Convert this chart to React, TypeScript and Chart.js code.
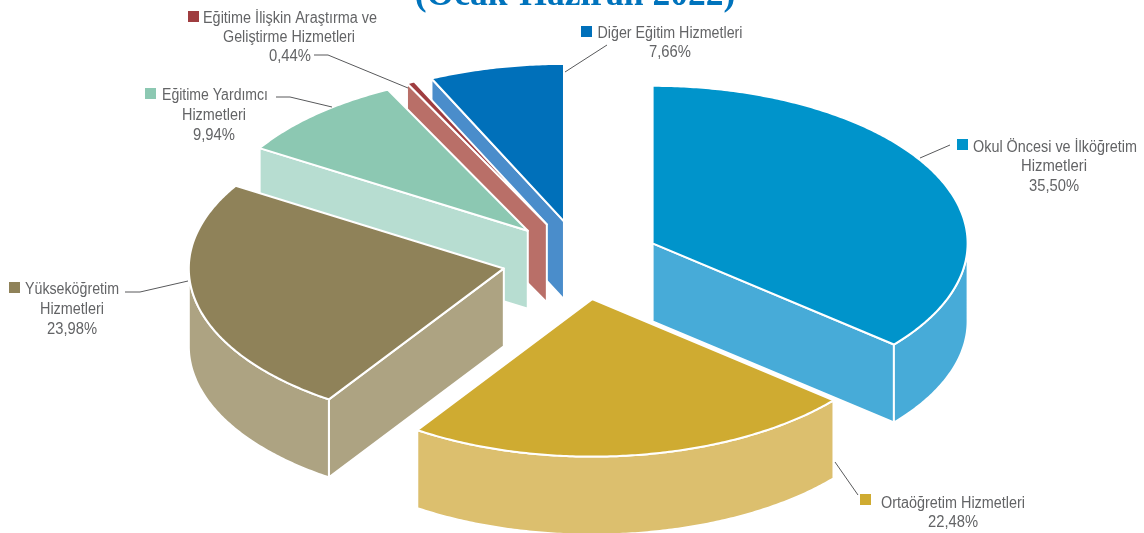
import React, { useEffect, useRef } from "react";
import { Chart, registerables } from "chart.js";

Chart.register(...registerables);

const titleText = "(Ocak-Haziran 2022)";
const categories = [
  "Okul Öncesi ve İlköğretim Hizmetleri",
  "Ortaöğretim Hizmetleri",
  "Yükseköğretim Hizmetleri",
  "Eğitime Yardımcı Hizmetleri",
  "Eğitime İlişkin Araştırma ve Geliştirme Hizmetleri",
  "Diğer Eğitim Hizmetleri",
];
const shares = [35.5, 22.48, 23.98, 9.94, 0.44, 7.66];
const topColors = ["#0094CB", "#CFAB31", "#8F8259", "#8CC8B2", "#9F3D40", "#0070BA"];
const wallColors = ["#47ABD8", "#DCBF6E", "#ADA382", "#B7DDD1", "#B96F68", "#4A8DCB"];
const drawOrder = [5, 4, 3, 2, 0, 1];

const SQUASH = 0.5;
const DEPTH = 78;
const EXPLODE = 79;
const RADIUS = 315;
const TEXT = "#636466";
const FONT = '16px "Liberation Sans Narrow", "Liberation Sans", sans-serif';
// The reference's 3D view distorts angles: [angle on the pie, degrees added by the projection].
const viewCorrection: [number, number][] = [[0, 0], [127.8, 2.2], [208.7, 5], [295, 6.6], [330.8, 2.8], [332.4, 2.7], [360, 0]];

const project = (rad: number) => {
  const deg = ((rad + Math.PI / 2) * 180) / Math.PI;
  for (let i = 1; i < viewCorrection.length; i++) {
    const [a0, e0] = viewCorrection[i - 1];
    const [a1, e1] = viewCorrection[i];
    if (deg <= a1 + 1e-6) return rad + ((e0 + ((e1 - e0) * (deg - a0)) / (a1 - a0)) * Math.PI) / 180;
  }
  return rad;
};

type Callout = {
  lines: string[];
  xs: number[];
  ys: number[];
  fit: number[];
  box: [number, number];
  leader: [number, number][];
};
const callouts: Callout[] = [
  { lines: ["Okul Öncesi ve İlköğretim", "Hizmetleri"], xs: [1055, 1054, 1054], ys: [148, 167, 187], fit: [164, 66, 50], box: [957, 139], leader: [[920, 158], [950, 145]] },
  { lines: ["Ortaöğretim Hizmetleri"], xs: [953, 953], ys: [504, 523], fit: [144, 50], box: [860, 494], leader: [[835, 462], [858, 495]] },
  { lines: ["Yükseköğretim", "Hizmetleri"], xs: [72, 72, 72], ys: [290, 310, 330], fit: [94, 64, 50], box: [9, 282], leader: [[125, 292], [140, 292], [188, 281]] },
  { lines: ["Eğitime Yardımcı", "Hizmetleri"], xs: [215, 214, 214], ys: [96, 116, 136], fit: [106, 64, 42], box: [145, 88], leader: [[276, 97], [290, 97], [332, 107]] },
  { lines: ["Eğitime İlişkin Araştırma ve", "Geliştirme Hizmetleri"], xs: [290, 289, 290], ys: [19, 38, 57], fit: [174, 132, 42], box: [188, 11], leader: [[314, 55], [328, 55], [408, 88]] },
  { lines: ["Diğer Eğitim Hizmetleri"], xs: [670, 670], ys: [34, 53], fit: [145, 42], box: [581, 26], leader: [[565, 72], [607, 45]] },
];

const pie3d = {
  id: "pie3d",
  afterDatasetUpdate(chart: any) {
    for (const arc of chart.getDatasetMeta(0).data) {
      arc.startAngle = project(arc.startAngle);
      arc.endAngle = project(arc.endAngle);
      arc.circumference = arc.endAngle - arc.startAngle;
    }
  },
  beforeDatasetDraw(chart: any) {
    const { ctx } = chart;
    const arcs = chart.getDatasetMeta(0).data;
    const pt = (arc: any, a: number, r: number, depth: number): [number, number] => {
      const mid = (arc.startAngle + arc.endAngle) / 2;
      return [
        arc.x + Math.cos(a) * r + Math.cos(mid) * EXPLODE,
        arc.y + (Math.sin(a) * r + Math.sin(mid) * EXPLODE) * SQUASH + depth,
      ];
    };
    const poly = (points: [number, number][], fill: string) => {
      ctx.beginPath();
      points.forEach((p, i) => (i ? ctx.lineTo(p[0], p[1]) : ctx.moveTo(p[0], p[1])));
      ctx.closePath();
      ctx.fillStyle = fill;
      ctx.fill();
      ctx.strokeStyle = "#fff";
      ctx.lineWidth = 2;
      ctx.lineJoin = "round";
      ctx.stroke();
    };
    const sweep = (arc: any, a0: number, a1: number, depth: number) => {
      const out: [number, number][] = [];
      const n = Math.max(2, Math.ceil((a1 - a0) / 0.01));
      for (let i = 0; i <= n; i++) out.push(pt(arc, a0 + ((a1 - a0) * i) / n, arc.outerRadius, depth));
      return out;
    };
    ctx.save();
    for (const i of drawOrder) {
      const arc = arcs[i];
      const c = wallColors[i];
      const faces: number[] = [];
      if (Math.cos(arc.startAngle) < 0.001) faces.push(arc.startAngle);
      if (Math.cos(arc.endAngle) > -0.001) faces.push(arc.endAngle);
      for (const a of faces) {
        poly([pt(arc, a, 0, 0), pt(arc, a, arc.outerRadius, 0), pt(arc, a, arc.outerRadius, DEPTH), pt(arc, a, 0, DEPTH)], c);
      }
      const a0 = Math.max(arc.startAngle, 0);
      const a1 = Math.min(arc.endAngle, Math.PI);
      if (a1 > a0) poly([...sweep(arc, a0, a1, 0), ...sweep(arc, a0, a1, DEPTH).reverse()], c);
    }
    for (const i of drawOrder) {
      const arc = arcs[i];
      const mid = (arc.startAngle + arc.endAngle) / 2;
      ctx.save();
      ctx.translate(arc.x, arc.y);
      ctx.scale(1, SQUASH);
      ctx.translate(-arc.x, -arc.y);
      ctx.translate(Math.cos(mid) * EXPLODE, Math.sin(mid) * EXPLODE);
      arc.draw(ctx);
      ctx.restore();
      const edge = [pt(arc, 0, 0, 0), ...sweep(arc, arc.startAngle, arc.endAngle, 0)];
      ctx.beginPath();
      edge.forEach((p, k) => (k ? ctx.lineTo(p[0], p[1]) : ctx.moveTo(p[0], p[1])));
      ctx.closePath();
      ctx.strokeStyle = "#fff";
      ctx.lineWidth = 2;
      ctx.lineJoin = "round";
      ctx.stroke();
    }
    ctx.restore();
    return false;
  },
  afterDraw(chart: any) {
    const { ctx } = chart;
    ctx.save();
    ctx.fillStyle = "#0073BC";
    ctx.font = 'bold 35.5px "Liberation Serif", serif';
    ctx.textAlign = "center";
    ctx.textBaseline = "alphabetic";
    ctx.fillText(titleText, 575, 5, 322);

    ctx.font = FONT;
    ctx.textBaseline = "middle";
    callouts.forEach((c, i) => {
      ctx.fillStyle = topColors[i];
      ctx.fillRect(c.box[0], c.box[1], 11, 11);
      ctx.fillStyle = TEXT;
      const all = [...c.lines, shares[i].toFixed(2).replace(".", ",") + "%"];
      all.forEach((t, k) => ctx.fillText(t, c.xs[k], c.ys[k], c.fit[k]));
      ctx.beginPath();
      c.leader.forEach((p, k) => (k ? ctx.lineTo(p[0], p[1]) : ctx.moveTo(p[0], p[1])));
      ctx.strokeStyle = "#58595B";
      ctx.lineWidth = 1;
      ctx.stroke();
    });
    ctx.restore();
  },
};

export default function App() {
  const ref = useRef<HTMLCanvasElement>(null);
  useEffect(() => {
    document.body.style.margin = "0";
    const chart = new Chart(ref.current!, {
      type: "pie",
      data: {
        labels: categories,
        datasets: [{ data: shares, backgroundColor: topColors, borderWidth: 0, radius: RADIUS, clip: false } as any],
      },
      options: {
        animation: false,
        responsive: false,
        layout: { padding: { left: 18, right: 0, top: 0, bottom: 13 } },
        plugins: { legend: { display: false }, tooltip: { enabled: false } },
      },
      plugins: [pie3d],
    } as any);
    return () => chart.destroy();
  }, []);
  return <canvas ref={ref} width={1144} height={533} style={{ display: "block" }} />;
}
